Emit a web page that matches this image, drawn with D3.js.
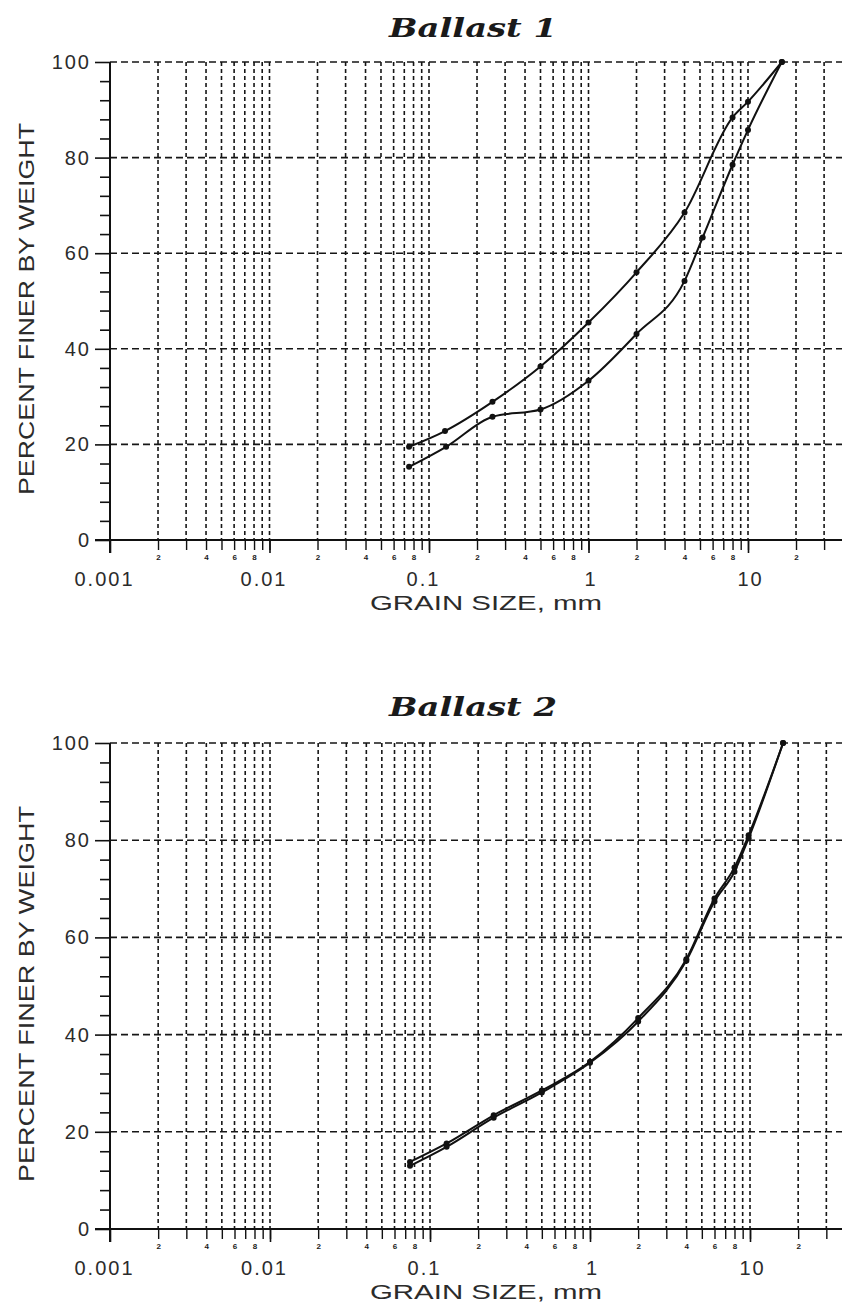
<!DOCTYPE html>
<html>
<head>
<meta charset="utf-8">
<script src="https://cdn.jsdelivr.net/npm/d3@7"></script>
<style>
  body { margin: 0; background: #fff; }
  svg { display: block; }
  .tick text { font-family: "Liberation Sans", Arial, sans-serif; }
</style>
</head>
<body>
<svg id="chart" width="842" height="1304"></svg>
<script>
// Grain-size distribution curves (percent finer by weight vs. grain size, mm)

// Ballast 1 — finer gradation
const b1FineSize = [0.075, 0.126, 0.25, 0.5, 1, 2, 4, 8, 10, 16.3];
const b1FinePct  = [19.5, 22.8, 28.9, 36.3, 45.5, 56.0, 68.5, 88.4, 91.7, 100];
// Ballast 1 — coarser gradation
const b1CoarseSize = [0.075, 0.128, 0.25, 0.5, 1, 2, 4, 5.2, 8, 10, 16.3];
const b1CoarsePct  = [15.3, 19.5, 25.8, 27.3, 33.3, 43.1, 54.2, 63.3, 78.5, 85.8, 100];

// Ballast 2 — two nearly coincident gradations
const b2ASize = [0.075, 0.127, 0.25, 0.5, 1, 2, 4, 6, 8, 9.8, 16.1];
const b2APct  = [13.8, 17.6, 23.4, 28.5, 34.4, 43.4, 55.5, 68.0, 74.4, 81.0, 100];
const b2BSize = [0.075, 0.127, 0.25, 0.5, 1, 2, 4, 6, 8, 9.8, 16.1];
const b2BPct  = [13.0, 16.9, 22.9, 28.1, 34.2, 42.7, 55.2, 67.4, 73.5, 80.4, 100];

// Axis ticks and labels
const yMajorTicks = [0, 20, 40, 60, 80, 100];
const yMinorTicks = [4, 8, 12, 16, 24, 28, 32, 36, 44, 48, 52, 56, 64, 68, 72, 76, 84, 88, 92, 96];
const xDecades = [0.001, 0.01, 0.1, 1, 10];
const xDecadeLabels = ["0.001", "0.01", "0.1", "1", "10"];
const xMinorDigits = [2, 4, 6, 8];   // digits printed under these gridlines in each decade

const panels = [
  { title: "Ballast 1", titleY: 37, top: 62, base: 540, left: 110, decadeWidth: 159.5,
    yLabelLen: 372,
    series: [[b1FineSize, b1FinePct], [b1CoarseSize, b1CoarsePct]] },
  { title: "Ballast 2", titleY: 716, top: 743, base: 1229, left: 110, decadeWidth: 160,
    yLabelLen: 376,
    series: [[b2ASize, b2APct], [b2BSize, b2BPct]] }
];

const W = 842;
const svg = d3.select("#chart");
const ink = "#111";
const gridInk = "#161616";
const textInk = "#2b2b2b";
const sans = '"Liberation Sans", Arial, sans-serif';

panels.forEach(p => {
  const xMax = Math.pow(10, -3 + (W - p.left) / p.decadeWidth);
  const x = d3.scaleLog().domain([0.001, xMax]).range([p.left, W]);
  const y = d3.scaleLinear().domain([0, 100]).range([p.base, p.top]);

  const g = svg.append("g");

  // every 1..9 line of each decade
  const gridX = [];
  xDecades.forEach(d => { for (let m = 1; m <= 9; m++) { const v = m * d; if (v <= xMax) gridX.push(v); } });

  // vertical dashed grid
  g.append("g").selectAll("line").data(gridX.filter(v => v > 0.001)).join("line")
    .attr("x1", d => x(d)).attr("x2", d => x(d))
    .attr("y1", y(100)).attr("y2", y(0))
    .attr("stroke", gridInk).attr("stroke-width", 1.6)
    .attr("stroke-dasharray", "4,3");

  // horizontal dashed grid
  g.append("g").selectAll("line").data(yMajorTicks.filter(v => v > 0)).join("line")
    .attr("x1", p.left).attr("x2", W)
    .attr("y1", d => y(d)).attr("y2", d => y(d))
    .attr("stroke", gridInk).attr("stroke-width", 1.6)
    .attr("stroke-dasharray", "7,4");

  // y axis: major ticks with labels
  const yAxis = g.append("g").attr("transform", `translate(${p.left},0)`)
    .call(d3.axisLeft(y).tickValues(yMajorTicks).tickSize(15).tickSizeOuter(0).tickPadding(6));
  yAxis.select(".domain").remove();
  yAxis.selectAll("line").attr("stroke", ink).attr("stroke-width", 1.6);
  yAxis.selectAll("text").attr("fill", textInk).attr("font-size", 20)
    .attr("letter-spacing", 2).attr("dx", 2);

  // y axis: minor ticks
  const yMinor = g.append("g").attr("transform", `translate(${p.left},0)`)
    .call(d3.axisLeft(y).tickValues(yMinorTicks).tickSize(10).tickSizeOuter(0).tickFormat(""));
  yMinor.select(".domain").remove();
  yMinor.selectAll("line").attr("stroke", ink).attr("stroke-width", 1.6);

  // y axis line, running a little below the base
  g.append("line").attr("x1", p.left).attr("x2", p.left)
    .attr("y1", y(100)).attr("y2", y(0) + 13)
    .attr("stroke", ink).attr("stroke-width", 2);

  // x axis: minor ticks with small digits
  const xMinor = g.append("g").attr("transform", `translate(0,${p.base})`)
    .call(d3.axisBottom(x).tickValues(gridX.filter(v => v > 0.001)).tickSize(10).tickSizeOuter(0)
      .tickPadding(4)
      .tickFormat(d => {
        const m = Math.round(d / Math.pow(10, Math.floor(Math.log10(d) + 1e-9)));
        return xMinorDigits.includes(m) ? String(m) : "";
      }));
  xMinor.select(".domain").remove();
  xMinor.selectAll("line").attr("stroke", ink).attr("stroke-width", 1.4);
  xMinor.selectAll("text").attr("fill", "#1a1a1a").attr("font-size", 8).attr("font-weight", "bold");

  // x axis: decade labels
  const xMajor = g.append("g").attr("transform", `translate(0,${p.base})`)
    .call(d3.axisBottom(x).tickValues(xDecades).tickSize(13).tickSizeOuter(0).tickPadding(19)
      .tickFormat((d, i) => xDecadeLabels[i]));
  xMajor.select(".domain").remove();
  xMajor.selectAll("line").attr("stroke", ink).attr("stroke-width", 1.6);
  xMajor.selectAll("text").attr("fill", textInk).attr("font-size", 20)
    .attr("letter-spacing", 2).attr("dx", d => d < 1 ? -6 : 2);

  // x axis line
  g.append("line").attr("x1", p.left - 15).attr("x2", W)
    .attr("y1", y(0)).attr("y2", y(0))
    .attr("stroke", ink).attr("stroke-width", 2.2);

  // axis titles
  g.append("text")
    .attr("x", 486).attr("y", p.base + 70)
    .attr("text-anchor", "middle")
    .attr("font-family", sans).attr("font-size", 21).attr("fill", textInk)
    .attr("textLength", 232).attr("lengthAdjust", "spacingAndGlyphs")
    .text("GRAIN  SIZE,  mm");

  const yMid = (y(0) + y(100)) / 2 + 8;
  g.append("text")
    .attr("transform", `translate(34,${yMid}) rotate(-90)`)
    .attr("text-anchor", "middle")
    .attr("font-family", sans).attr("font-size", 22).attr("fill", textInk)
    .attr("textLength", p.yLabelLen).attr("lengthAdjust", "spacingAndGlyphs")
    .text("PERCENT  FINER  BY  WEIGHT");

  // panel title
  g.append("text")
    .attr("x", 473).attr("y", p.titleY)
    .attr("text-anchor", "middle")
    .attr("font-family", '"DejaVu Serif", "Liberation Serif", serif')
    .attr("font-style", "italic").attr("font-weight", "bold")
    .attr("font-size", 26).attr("fill", "#1a1a1a")
    .attr("textLength", 168).attr("lengthAdjust", "spacingAndGlyphs")
    .text(p.title.replace(" ", "  "));

  // gradation curves with sieve points
  const line = d3.line().x(d => x(d[0])).y(d => y(d[1])).curve(d3.curveMonotoneX);
  p.series.forEach(([sizes, pcts]) => {
    const pts = sizes.map((s, i) => [s, pcts[i]]);
    g.append("path").datum(pts)
      .attr("d", line)
      .attr("fill", "none").attr("stroke", "#111").attr("stroke-width", 2);
    g.append("g").selectAll("circle").data(pts).join("circle")
      .attr("cx", d => x(d[0])).attr("cy", d => y(d[1]))
      .attr("r", 3).attr("fill", "#111");
  });
});
</script>
</body>
</html>
